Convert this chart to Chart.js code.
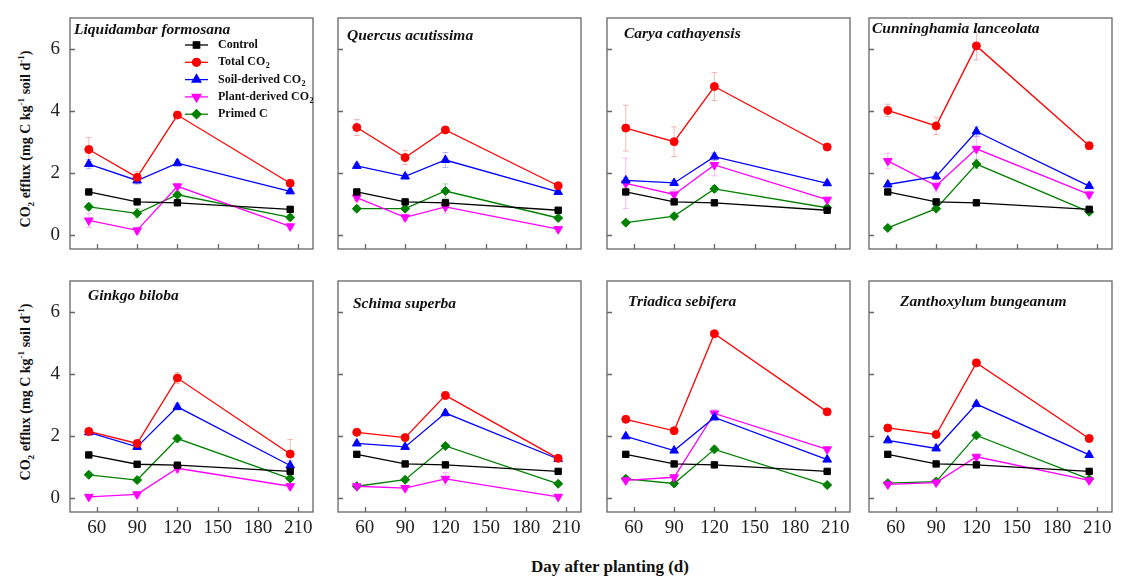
<!DOCTYPE html>
<html>
<head>
<meta charset="utf-8">
<script src="https://cdn.jsdelivr.net/npm/chart.js@4.4.1/dist/chart.umd.min.js"></script>
<style>
  body { margin: 0; background: #fff; width: 1129px; height: 585px; position: relative; overflow: hidden; font-family: "Liberation Serif", serif; }
  canvas { position: absolute; }
  .ytitle { position: absolute; font-weight: bold; font-size: 14px; white-space: nowrap; color: #111;
            transform: translate(-50%, -50%) rotate(-90deg); }
  .xtitle { position: absolute; font-weight: bold; font-size: 17px; white-space: nowrap; color: #111;
            transform: translate(-50%, -50%); }
  sub, sup { font-size: 65%; line-height: 0; }
</style>
</head>
<body>
<div class="ytitle" style="left:26px; top:139px">CO<sub>2</sub> efflux (mg C kg<sup>-1</sup> soil d<sup>-1</sup>)</div>
<div class="ytitle" style="left:26px; top:392px">CO<sub>2</sub> efflux (mg C kg<sup>-1</sup> soil d<sup>-1</sup>)</div>
<div class="xtitle" style="left:610px; top:567px">Day after planting (d)</div>
<script>
// sampling days and axis ticks
const days = [54, 90, 120, 204];
const xTicks = [60, 90, 120, 150, 180, 210];
const yTicks = [0, 2, 4, 6];

const species = ['Liquidambar formosana', 'Quercus acutissima', 'Carya cathayensis', 'Cunninghamia lanceolata',
                 'Ginkgo biloba', 'Schima superba', 'Triadica sebifera', 'Zanthoxylum bungeanum'];
const seriesNames = ['Control', 'Total CO2', 'Soil-derived CO2', 'Plant-derived CO2', 'Primed C'];

// one row per panel, values at the four sampling days
const controlVals = [
  [1.39, 1.07, 1.04, 0.83], [1.39, 1.07, 1.04, 0.80], [1.39, 1.07, 1.04, 0.80], [1.39, 1.07, 1.04, 0.83],
  [1.39, 1.09, 1.06, 0.86], [1.41, 1.10, 1.07, 0.86], [1.41, 1.10, 1.07, 0.86], [1.41, 1.10, 1.07, 0.86]
];
const totalVals = [
  [2.76, 1.86, 3.87, 1.67], [3.47, 2.50, 3.39, 1.59], [3.45, 3.01, 4.79, 2.84], [4.02, 3.52, 6.10, 2.88],
  [2.15, 1.76, 3.87, 1.42], [2.12, 1.95, 3.31, 1.28], [2.54, 2.17, 5.30, 2.78], [2.26, 2.05, 4.36, 1.92]
];
const soilVals = [
  [2.29, 1.76, 2.32, 1.41], [2.23, 1.89, 2.42, 1.39], [1.76, 1.68, 2.53, 1.67], [1.63, 1.89, 3.34, 1.58],
  [2.12, 1.65, 2.94, 1.05], [1.76, 1.65, 2.74, 1.26], [1.99, 1.53, 2.60, 1.24], [1.86, 1.60, 3.03, 1.39]
];
const plantVals = [
  [0.47, 0.15, 1.57, 0.28], [1.21, 0.57, 0.91, 0.19], [1.67, 1.31, 2.26, 1.14], [2.39, 1.59, 2.78, 1.31],
  [0.04, 0.12, 0.96, 0.38], [0.38, 0.32, 0.62, 0.04], [0.57, 0.67, 2.73, 1.57], [0.44, 0.50, 1.33, 0.57]
];
const primedVals = [
  [0.91, 0.70, 1.30, 0.57], [0.85, 0.85, 1.42, 0.55], [0.40, 0.61, 1.49, 0.88], [0.23, 0.85, 2.29, 0.75],
  [0.75, 0.58, 1.92, 0.63], [0.38, 0.59, 1.68, 0.46], [0.62, 0.47, 1.57, 0.42], [0.48, 0.53, 2.02, 0.61]
];

// standard errors
const totalErr = [
  [0.39, 0.19, 0.10, 0.08], [0.26, 0.23, 0.08, 0.06], [0.74, 0.48, 0.45, 0.10], [0.20, 0.28, 0.45, 0.12],
  [0.08, 0.06, 0.18, 0.47], [0.06, 0.06, 0.12, 0.06], [0.10, 0.06, 0.10, 0.06], [0.06, 0.06, 0.10, 0.10]
];
const soilErr = [
  [0.15, 0.12, 0.10, 0.08], [0.08, 0.08, 0.24, 0.08], [0.10, 0.08, 0.12, 0.06], [0.06, 0.10, 0.15, 0.08],
  [0.08, 0.08, 0.10, 0.15], [0.06, 0.06, 0.10, 0.08], [0.06, 0.06, 0.08, 0.06], [0.06, 0.06, 0.08, 0.06]
];
const plantErr = [
  [0.23, 0.10, 0.08, 0.08], [0.10, 0.10, 0.20, 0.08], [0.81, 0.15, 0.35, 0.08], [0.25, 0.20, 0.40, 0.10],
  [0.06, 0.08, 0.15, 0.08], [0.06, 0.08, 0.20, 0.06], [0.08, 0.08, 0.12, 0.06], [0.06, 0.06, 0.08, 0.06]
];
const primedErr = [
  [0.10, 0.15, 0.10, 0.08], [0.06, 0.06, 0.23, 0.06], [0.06, 0.08, 0.10, 0.06], [0.06, 0.06, 0.15, 0.06],
  [0.06, 0.06, 0.10, 0.06], [0.06, 0.06, 0.06, 0.06], [0.06, 0.06, 0.08, 0.06], [0.06, 0.06, 0.06, 0.06]
];

// layout
const boxLeft = [70, 338, 607, 869];
const boxTop = [15, 278];
const boxW = 245, boxH = 234;
const ML = 45, MT = 3, MR = 4, MB = 30;
const titleDx = [4, 9, 17, 3, 18, 15, 21, 31];
const titleDy = [12, 18, 16, 11, 15, 23, 21, 21];

const serif = '"Liberation Serif", "Times New Roman", serif';
Chart.defaults.font.family = serif;
const styles = [
  { color: '#000000', err: 'rgba(0,0,0,0.3)',      point: 'rect',     radius: 4.5, rot: 0 },
  { color: '#ff0000', err: 'rgba(220,60,60,0.35)', point: 'circle',   radius: 4,   rot: 0 },
  { color: '#0000ff', err: 'rgba(60,60,220,0.35)', point: 'triangle', radius: 5,   rot: 0 },
  { color: '#ff00ff', err: 'rgba(230,60,230,0.35)',point: 'triangle', radius: 5,   rot: 180 },
  { color: '#008000', err: 'rgba(0,140,0,0.35)',   point: 'rectRot',  radius: 4.5, rot: 0 }
];

function labelWithSub(ctx, text, x, y) {
  // draws "CO2" with the 2 as a subscript
  if (text.endsWith('CO2')) {
    const main = text.slice(0, -1);
    ctx.fillText(main, x, y);
    const w = ctx.measureText(main).width;
    const f = ctx.font;
    ctx.font = 'bold 8px ' + serif;
    ctx.fillText('2', x + w + 0.5, y + 4);
    ctx.font = f;
  } else {
    ctx.fillText(text, x, y);
  }
}

const framePlugin = {
  id: 'frame',
  beforeDatasetsDraw(chart) {
    const { ctx, scales: { x, y } } = chart;
    ctx.save();
    chart.data.datasets.forEach(ds => {
      if (!ds.errors) return;
      ctx.strokeStyle = ds.errColor;
      ctx.lineWidth = 1;
      ds.data.forEach((p, i) => {
        const e = ds.errors[i];
        const px = x.getPixelForValue(p.x);
        const y1 = y.getPixelForValue(p.y + e), y2 = y.getPixelForValue(p.y - e);
        ctx.beginPath();
        ctx.moveTo(px, y1); ctx.lineTo(px, y2);
        ctx.moveTo(px - 3, y1); ctx.lineTo(px + 3, y1);
        ctx.moveTo(px - 3, y2); ctx.lineTo(px + 3, y2);
        ctx.stroke();
      });
    });
    ctx.restore();
  },
  afterDraw(chart, args, opts) {
    const { ctx, chartArea: a, scales: { x, y } } = chart;
    ctx.save();
    ctx.strokeStyle = '#666';
    ctx.lineWidth = 1.3;
    ctx.strokeRect(a.left, a.top, a.right - a.left, a.bottom - a.top);
    ctx.beginPath();
    yTicks.forEach(v => { const py = Math.round(y.getPixelForValue(v)) + 0.5; ctx.moveTo(a.left, py); ctx.lineTo(a.left + 5, py); });
    xTicks.forEach(v => { const px = Math.round(x.getPixelForValue(v)) + 0.5; ctx.moveTo(px, a.bottom); ctx.lineTo(px, a.bottom - 5); });
    ctx.stroke();

    ctx.fillStyle = '#111';
    ctx.font = 'bold italic 15.5px ' + serif;
    ctx.textBaseline = 'middle';
    ctx.fillText(opts.title, a.left + opts.dx, a.top + opts.dy);

    if (opts.legend) {
      ctx.font = 'bold 12px ' + serif;
      chart.data.datasets.forEach((ds, i) => {
        const ly = a.top + 27 + i * 17.3;
        ctx.strokeStyle = ds.borderColor;
        ctx.lineWidth = 1.3;
        ctx.beginPath(); ctx.moveTo(a.left + 115, ly); ctx.lineTo(a.left + 138, ly); ctx.stroke();
        ctx.fillStyle = ds.borderColor;
        Chart.helpers.drawPoint(ctx, { pointStyle: ds.pointStyle, rotation: ds.pointRotation, radius: ds.pointRadius, borderWidth: 1 }, a.left + 126.5, ly);
        ctx.fill();
        ctx.fillStyle = '#111';
        labelWithSub(ctx, seriesNames[i], a.left + 148, ly);
      });
    }
    ctx.restore();
  }
};

const allVals = [controlVals, totalVals, soilVals, plantVals, primedVals];
const allErr = [null, totalErr, soilErr, plantErr, primedErr];

species.forEach((name, p) => {
  const col = p % 4, row = Math.floor(p / 4);
  const cv = document.createElement('canvas');
  const w = boxW + ML + MR, h = boxH + MT + MB;
  cv.width = w; cv.height = h;
  cv.style.left = (boxLeft[col] - ML) + 'px';
  cv.style.top = (boxTop[row] - MT) + 'px';
  cv.style.width = w + 'px'; cv.style.height = h + 'px';
  document.body.appendChild(cv);

  const datasets = seriesNames.map((s, k) => ({
    label: s,
    data: days.map((d, i) => ({ x: d, y: allVals[k][p][i] })),
    errors: allErr[k] ? allErr[k][p] : null,
    errColor: styles[k].err,
    borderColor: styles[k].color,
    backgroundColor: styles[k].color,
    borderWidth: 1.3,
    pointStyle: styles[k].point,
    pointRotation: styles[k].rot,
    pointRadius: styles[k].radius,
    pointBorderWidth: 1,
    tension: 0
  }));

  new Chart(cv, {
    type: 'line',
    data: { datasets },
    plugins: [framePlugin],
    options: {
      responsive: false,
      animation: false,
      layout: { padding: { top: MT, right: MR, left: 0, bottom: 0 } },
      plugins: {
        legend: { display: false },
        tooltip: { enabled: false },
        frame: { title: name, dx: titleDx[p], dy: titleDy[p], legend: p === 0 }
      },
      scales: {
        x: {
          type: 'linear', min: 40, max: 221,
          grid: { display: false, drawTicks: false }, border: { display: false },
          afterBuildTicks: s => { s.ticks = xTicks.map(v => ({ value: v })); },
          afterFit: s => { s.height = MB; s.paddingLeft = 0; s.paddingRight = 0; },
          ticks: { display: row === 1, padding: 5, color: '#222', font: { family: serif, size: 19 }, maxRotation: 0, autoSkip: false }
        },
        y: {
          type: 'linear', min: -0.45, max: 7,
          grid: { display: false, drawTicks: false }, border: { display: false },
          afterBuildTicks: s => { s.ticks = yTicks.map(v => ({ value: v })); },
          afterFit: s => { s.width = ML; s.paddingTop = 0; s.paddingBottom = 0; },
          ticks: { display: col === 0, padding: 10, color: '#222', font: { family: serif, size: 19 } }
        }
      }
    }
  });
});
</script>
</body>
</html>
